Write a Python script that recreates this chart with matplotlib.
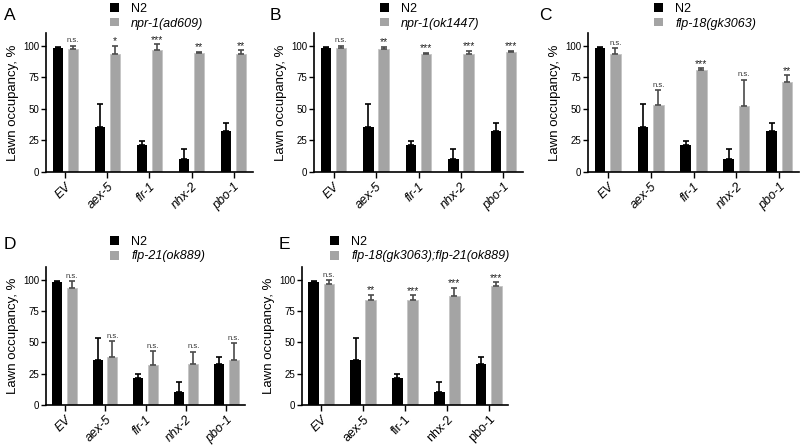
import matplotlib
matplotlib.use("Agg")
import matplotlib.pyplot as plt
import numpy as np
from matplotlib.patches import Patch

plt.rcParams["font.family"] = ["Liberation Sans", "DejaVu Sans"]

categories = ["EV", "aex-5", "flr-1", "nhx-2", "pbo-1"]

# N2 control, same in every panel
n2_mean = [98, 36, 21.5, 10.5, 32.5]
n2_err = [1, 17.5, 3, 8, 6]

# panel A
a_label = "npr-1(ad609)"
a_mean = [97.5, 93, 96.5, 94.5, 93.5]
a_err = [2.5, 7, 4.5, 0.8, 3]
a_sig = ["n.s.", "*", "***", "**", "**"]

# panel B
b_label = "npr-1(ok1447)"
b_mean = [98, 97, 93, 93, 95]
b_err = [2, 2, 1.3, 3, 0.8]
b_sig = ["n.s.", "**", "***", "***", "***"]

# panel C
c_label = "flp-18(gk3063)"
c_mean = [93, 53, 80.5, 52, 71.5]
c_err = [5, 12, 1.5, 21, 5]
c_sig = ["n.s.", "n.s.", "***", "n.s.", "**"]

# panel D
d_label = "flp-21(ok889)"
d_mean = [93, 38.5, 32, 33, 36]
d_err = [6, 12.5, 11, 9.5, 13.5]
d_sig = ["n.s.", "n.s.", "n.s.", "n.s.", "n.s."]

# panel E
e_label = "flp-18(gk3063);flp-21(ok889)"
e_mean = [96.5, 84, 84, 87, 94.5]
e_err = [3, 4, 3.5, 6.5, 3.5]
e_sig = ["n.s.", "**", "***", "***", "***"]

GREY = "#a4a4a4"
W, H = 800, 448


def px_axes(fig, left, right, top, bottom):
    return fig.add_axes([left / W, 1 - bottom / H, (right - left) / W, (bottom - top) / H])


def draw_panel(fig, ax, letter, mut_label, mut_mean, mut_err, sig,
               letter_xy, leg_xy, italic_ticks=True):
    x = np.arange(len(categories))
    off, bw = 0.18, 0.25
    ax.bar(x - off, n2_mean, bw, color="black", zorder=2)
    ax.bar(x + off, mut_mean, bw, color=GREY, edgecolor="#c4c4c4", linewidth=0.6, zorder=2)
    ax.errorbar(x - off, n2_mean, yerr=[np.zeros(len(x)), n2_err], fmt="none",
                ecolor="black", elinewidth=1.2, capsize=2.5, capthick=1.2, zorder=3)
    ax.errorbar(x + off, mut_mean, yerr=[np.zeros(len(x)), mut_err], fmt="none",
                ecolor="#4a4a4a", elinewidth=1.2, capsize=2.5, capthick=1.2, zorder=3)
    for xi, m, e, s in zip(x, mut_mean, mut_err, sig):
        if s == "n.s.":
            ax.text(xi + off, m + e + 1.0, s, ha="center", va="bottom", fontsize=5.5, color="#333333")
        else:
            ax.text(xi + off, m + e - 0.5, s, ha="center", va="bottom", fontsize=7.5, color="#222222")

    ax.set_xlim(-0.46, 4.46)
    ax.set_ylim(0, 110)
    ax.set_yticks([0, 25, 50, 75, 100])
    ax.set_xticks(x)
    labels = ax.set_xticklabels(categories, rotation=45, ha="right", rotation_mode="anchor", fontsize=9)
    for i, t in enumerate(labels):
        if italic_ticks or i == 0:
            t.set_style("italic")
    ax.tick_params(axis="y", labelsize=7, length=3.5, width=1, pad=1.5)
    ax.tick_params(axis="x", length=4, width=1, pad=2)
    ax.set_ylabel("Lawn occupancy, %", fontsize=9.5, labelpad=3)
    for side in ("top", "right"):
        ax.spines[side].set_visible(False)
    for side in ("left", "bottom"):
        ax.spines[side].set_linewidth(1.2)

    fig.text(letter_xy[0] / W, 1 - letter_xy[1] / H, letter, fontsize=12.5, va="top", ha="left")
    handles = [Patch(facecolor="black"), Patch(facecolor=GREY)]
    leg = fig.legend(handles, ["N2", mut_label], loc="upper left",
                     bbox_to_anchor=(leg_xy[0] / W, 1 - leg_xy[1] / H),
                     frameon=False, fontsize=9, borderpad=0, borderaxespad=0,
                     handlelength=0.7, handleheight=0.7, handletextpad=1.0, labelspacing=0.2)
    leg.get_texts()[1].set_style("italic")


fig = plt.figure(figsize=(8, 4.48), dpi=100)

axA = px_axes(fig, 46, 253, 33, 172)
draw_panel(fig, axA, "A", a_label, a_mean, a_err, a_sig, (4, 8), (110, 3))

axB = px_axes(fig, 314, 523, 33, 172)
draw_panel(fig, axB, "B", b_label, b_mean, b_err, b_sig, (270, 8), (380, 3))

axC = px_axes(fig, 588, 799, 33, 172)
draw_panel(fig, axC, "C", c_label, c_mean, c_err, c_sig, (539, 8), (654, 3))

axD = px_axes(fig, 46, 245, 267, 405)
draw_panel(fig, axD, "D", d_label, d_mean, d_err, d_sig, (4, 237), (110, 236))

axE = px_axes(fig, 302, 508, 267, 405)
draw_panel(fig, axE, "E", e_label, e_mean, e_err, e_sig, (279, 237), (330, 236), italic_ticks=False)

fig.savefig("out.png", dpi=100)
